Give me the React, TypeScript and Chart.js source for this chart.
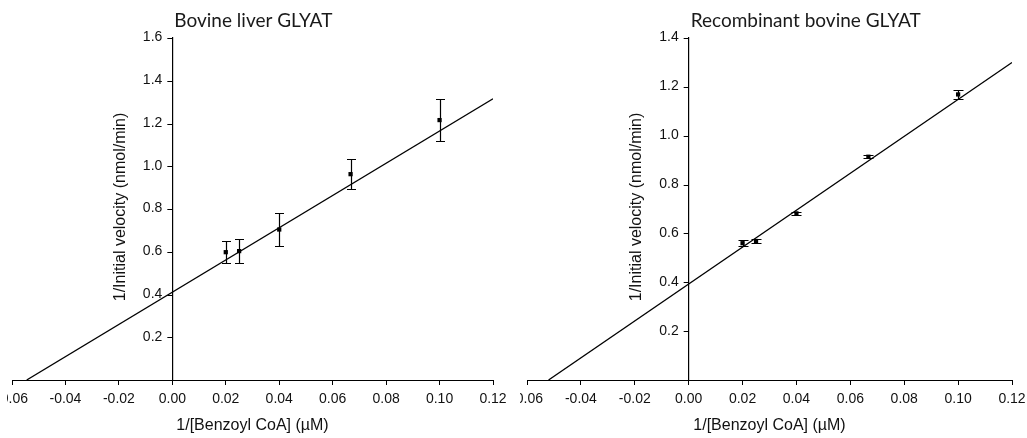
import React, { useEffect, useRef } from 'react';
import { Chart, registerables } from 'chart.js';

Chart.register(...registerables);

// ---- data ----
const X_TICKS = [-0.06, -0.04, -0.02, 0, 0.02, 0.04, 0.06, 0.08, 0.1, 0.12];
const LIVER_Y_TICKS = [0.2, 0.4, 0.6, 0.8, 1.0, 1.2, 1.4, 1.6];
const RECOMB_Y_TICKS = [0.2, 0.4, 0.6, 0.8, 1.0, 1.2, 1.4];

const SUBSTRATE_INV = [0.02, 0.025, 0.04, 0.0667, 0.1];

const LIVER_RATE_INV = [0.598, 0.603, 0.704, 0.963, 1.216];
const LIVER_ERR = [0.052, 0.055, 0.076, 0.071, 0.098];
const LIVER_FIT_X = [-0.0545, 0.12];
const LIVER_FIT_Y = [0, 1.316];

const RECOMB_RATE_INV = [0.56, 0.569, 0.682, 0.914, 1.169];
const RECOMB_ERR = [0.0135, 0.01, 0.005, 0.006, 0.018];
const RECOMB_FIT_X = [-0.052, 0.12];
const RECOMB_FIT_Y = [0, 1.3];

const TITLE_LIVER = 'Bovine liver GLYAT';
const TITLE_RECOMB = 'Recombinant bovine GLYAT';
const X_TITLE = '1/[Benzoyl CoA] (µM)';
const Y_TITLE = '1/Initial velocity (nmol/min)';

const TICK_FONT = { family: '"Liberation Sans", Arial, sans-serif', size: 14 };
const TICK_FONT_CSS = '14px "Liberation Sans", Arial, sans-serif';

function decorPlugin(title: string, rates: number[], errs: number[], cap: number, yTicks: number[]) {
  return {
    id: 'decor',
    afterDatasetsDraw(chart: any) {
      const { ctx, scales, chartArea } = chart;
      const x = scales.x;
      const y = scales.y;
      ctx.save();
      ctx.strokeStyle = '#000';
      ctx.lineWidth = 1.2;
      SUBSTRATE_INV.forEach((sx, i) => {
        const px = Math.round(x.getPixelForValue(sx)) + 0.5;
        const top = Math.round(y.getPixelForValue(rates[i] + errs[i])) + 0.5;
        const bot = Math.round(y.getPixelForValue(rates[i] - errs[i])) + 0.5;
        ctx.beginPath();
        ctx.moveTo(px, top);
        ctx.lineTo(px, bot);
        ctx.moveTo(px - cap, top);
        ctx.lineTo(px + cap, top);
        ctx.moveTo(px - cap, bot);
        ctx.lineTo(px + cap, bot);
        ctx.stroke();
      });
      const ax = x.getPixelForValue(0);

      // y tick marks and labels
      ctx.lineWidth = 1;
      ctx.beginPath();
      yTicks.forEach((v) => {
        const py = Math.round(y.getPixelForValue(v)) + 0.5;
        ctx.moveTo(ax - 5, py);
        ctx.lineTo(ax, py);
      });
      ctx.stroke();
      ctx.fillStyle = '#111';
      ctx.font = TICK_FONT_CSS;
      ctx.textAlign = 'right';
      ctx.textBaseline = 'middle';
      yTicks.forEach((v) => {
        ctx.fillText(v.toFixed(1), ax - 10, y.getPixelForValue(v) - 0.5);
      });

      // panel title
      ctx.fillStyle = '#1a1a1a';
      ctx.font = '19px Lato, "Open Sans", sans-serif';
      ctx.textAlign = 'left';
      ctx.textBaseline = 'alphabetic';
      ctx.fillText(title, ax + 2, 27);

      // axis titles
      ctx.fillStyle = '#111';
      ctx.font = '16px "Liberation Sans", Arial, sans-serif';
      ctx.textAlign = 'center';
      ctx.textBaseline = 'middle';
      ctx.fillText(X_TITLE, (chartArea.left + chartArea.right) / 2, 426);
      ctx.save();
      ctx.translate(ax - 52, 207);
      ctx.rotate(-Math.PI / 2);
      ctx.fillText(Y_TITLE, 0, 0);
      ctx.restore();
      ctx.restore();
    },
  };
}

function makeConfig(
  title: string,
  rates: number[],
  errs: number[],
  fitX: number[],
  fitY: number[],
  yTicks: number[],
  yMax: number,
  padLeft: number,
  padRight: number,
  cap: number
): any {
  return {
    type: 'scatter',
    data: {
      datasets: [
        {
          type: 'line',
          data: fitX.map((v, i) => ({ x: v, y: fitY[i] })),
          borderColor: '#000',
          borderWidth: 1.3,
          pointRadius: 0,
          fill: false,
          tension: 0,
        },
        {
          type: 'scatter',
          data: SUBSTRATE_INV.map((v, i) => ({ x: v, y: rates[i] })),
          pointStyle: 'rect',
          pointRadius: 3,
          backgroundColor: '#000',
          borderColor: '#000',
          borderWidth: 0,
        },
      ],
    },
    options: {
      animation: false,
      responsive: false,
      maintainAspectRatio: false,
      layout: { padding: { left: padLeft, right: padRight, top: 38, bottom: 0 } },
      plugins: {
        legend: { display: false },
        tooltip: { enabled: false },
        title: { display: false },
      },
      scales: {
        x: {
          type: 'linear',
          position: 'bottom',
          min: -0.06,
          max: 0.12,
          afterBuildTicks: (s: any) => {
            s.ticks = X_TICKS.map((v) => ({ value: v }));
          },
          afterFit: (s: any) => {
            s.height = 58;
            s.paddingLeft = 0;
            s.paddingRight = 0;
          },
          ticks: {
            autoSkip: false,
            maxRotation: 0,
            minRotation: 0,
            padding: 6,
            color: '#111',
            font: TICK_FONT,
            callback: (v: any) => Number(v).toFixed(2),
          },
          grid: {
            display: true,
            drawOnChartArea: false,
            drawTicks: true,
            tickLength: 5,
            color: '#000',
            lineWidth: 1,
          },
          border: { display: true, color: '#000', width: 1 },
          title: { display: false },
        },
        y: {
          type: 'linear',
          position: { x: 0 },
          min: 0,
          max: yMax,
          afterBuildTicks: (s: any) => {
            s.ticks = yTicks.map((v) => ({ value: v }));
          },
          afterFit: (s: any) => {
            s.paddingTop = 0;
            s.paddingBottom = 0;
          },
          ticks: {
            display: false,
          },
          grid: {
            display: false,
            drawOnChartArea: false,
            drawTicks: false,
          },
          border: { display: true, color: '#000', width: 1.2 },
          title: { display: false },
        },
      },
    },
    plugins: [decorPlugin(title, rates, errs, cap, yTicks)],
  };
}

function Panel(props: { config: any; width: number; canvasLeft: number; divLeft: number; divWidth: number }) {
  const ref = useRef<HTMLCanvasElement | null>(null);
  useEffect(() => {
    if (!ref.current) return;
    const chart = new Chart(ref.current, props.config);
    return () => chart.destroy();
  }, []);
  return (
    <div
      style={{
        position: 'absolute',
        left: props.divLeft,
        top: 0,
        width: props.divWidth,
        height: 438,
        overflow: 'hidden',
      }}
    >
      <canvas
        ref={ref}
        width={props.width}
        height={438}
        style={{ position: 'absolute', left: props.canvasLeft, top: 0, width: props.width, height: 438 }}
      />
    </div>
  );
}

export default function App() {
  const liverCfg = makeConfig(
    TITLE_LIVER, LIVER_RATE_INV, LIVER_ERR, LIVER_FIT_X, LIVER_FIT_Y,
    LIVER_Y_TICKS, 1.6, 12, 22, 4.5
  );
  const recombCfg = makeConfig(
    TITLE_RECOMB, RECOMB_RATE_INV, RECOMB_ERR, RECOMB_FIT_X, RECOMB_FIT_Y,
    RECOMB_Y_TICKS, 1.4, 27, 15, 5
  );
  return (
    <div
      style={{
        position: 'absolute',
        left: 0,
        top: 0,
        width: 1027,
        height: 438,
        overflow: 'hidden',
        background: '#fff',
      }}
    >
      <Panel config={liverCfg} width={515} canvasLeft={-7} divLeft={7} divWidth={513} />
      <Panel config={recombCfg} width={527} canvasLeft={-20} divLeft={520} divWidth={507} />
    </div>
  );
}
